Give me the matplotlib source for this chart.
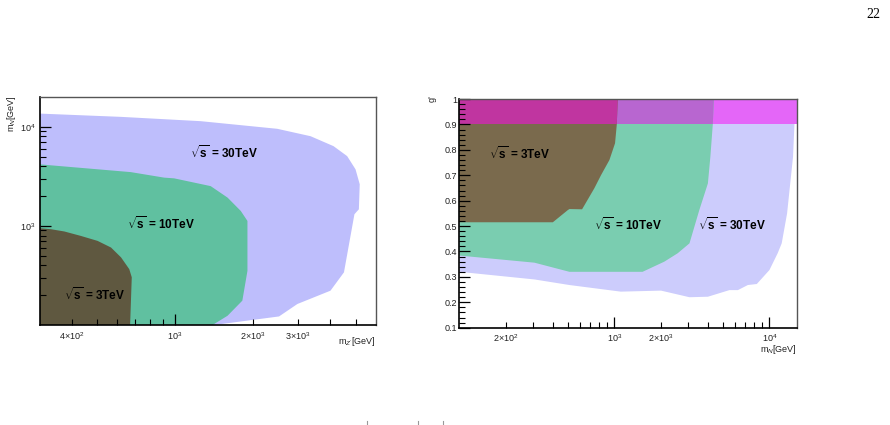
import matplotlib
matplotlib.use("Agg")
import matplotlib.pyplot as plt
from matplotlib.ticker import FixedLocator, FixedFormatter, NullFormatter
from matplotlib.lines import Line2D

plt.rcParams['font.family'] = ['Liberation Sans', 'DejaVu Sans']
plt.rcParams['mathtext.fontset'] = 'custom'
plt.rcParams['mathtext.rm'] = 'Liberation Sans'
plt.rcParams['mathtext.it'] = 'Liberation Sans:italic'
plt.rcParams['mathtext.bf'] = 'Liberation Sans:bold'

# ---- left panel: m_N vs m_Z' exclusion regions ----
mz_30 = [300, 300, 620, 1260, 2490, 3350, 4110, 4640, 5000, 5190, 5150, 5080, 4950, 4510, 4000, 2980, 2530, 1420]
mn_30 = [100, 13600, 12600, 11400, 9550, 8040, 6380, 5060, 3720, 2630, 1470, 1415, 1310, 340, 222, 163, 122, 100]

mz_10 = [300, 300, 676, 910, 994, 1377, 1600, 1800, 1910, 1910, 1825, 1600, 1400]
mn_10 = [100, 4180, 3490, 3070, 3020, 2520, 1930, 1415, 1122, 352, 176, 124, 100]

mz_3 = [300, 300, 332, 374, 433, 503, 567, 620, 667, 682, 672]
mn_3 = [100, 948, 926, 879, 793, 706, 605, 481, 366, 303, 100]

# ---- right panel: g' vs m_N exclusion regions ----
mN_30 = [100, 305, 513, 1100, 2000, 3050, 4010, 5520, 6260, 7260, 8290, 10000, 11300, 12000, 13000, 14200, 14500, 14600, 100]
g_30 = [0.320, 0.290, 0.268, 0.242, 0.246, 0.220, 0.222, 0.248, 0.248, 0.268, 0.272, 0.327, 0.393, 0.432, 0.55, 0.773, 0.90, 1.0, 1.0]

mN_10 = [100, 305, 513, 1520, 2100, 2560, 3050, 3530, 4010, 4160, 4310, 4380, 100]
g_10 = [0.384, 0.356, 0.320, 0.320, 0.360, 0.393, 0.432, 0.563, 0.668, 0.773, 0.898, 1.0, 1.0]

mN_3 = [100, 401, 501, 513, 619, 743, 821, 929, 1010, 1036, 1052, 100]
g_3 = [0.515, 0.515, 0.563, 0.567, 0.566, 0.649, 0.701, 0.760, 0.826, 0.898, 1.0, 1.0]

g_band = (0.9, 1.0)

labels = ['$\\sqrt{\\mathbf{s}}$ = 30TeV', '$\\sqrt{\\mathbf{s}}$ = 10TeV', '$\\sqrt{\\mathbf{s}}$ = 3TeV']

fig = plt.figure(figsize=(8.9, 4.25), dpi=100)
fig.patch.set_facecolor('white')


def style_frame(ax):
    for s in ['left', 'bottom']:
        ax.spines[s].set_color('black')
        ax.spines[s].set_linewidth(1.2)
    for s in ['top', 'right']:
        ax.spines[s].set_color('#555555')
        ax.spines[s].set_linewidth(1.0)
    for sp in ax.spines.values():
        sp.set_zorder(12)
    ax.xaxis.set_zorder(11)
    ax.yaxis.set_zorder(11)
    ax.tick_params(which='both', direction='in', top=False, right=False,
                   labelsize=6.5, colors='black', labelcolor='#222222')
    ax.tick_params(which='major', length=8, width=0.9)
    ax.tick_params(which='minor', length=4, width=0.8)


# left panel
ax1 = fig.add_axes([0.0444, 0.2353, 0.3781, 0.5365])
ax1.set_xscale('log')
ax1.set_yscale('log')
ax1.fill(mz_30, mn_30, color='#bebefc', lw=0, zorder=1)
ax1.fill(mz_10, mn_10, color='#60c0a0', lw=0, zorder=2)
ax1.fill(mz_3, mn_3, color='#5f5840', lw=0, zorder=3)
ax1.set_xlim(300, 6000)
ax1.set_ylim(100, 20000)
style_frame(ax1)
ax1.xaxis.set_major_locator(FixedLocator([1000]))
ax1.xaxis.set_major_formatter(FixedFormatter(['10$^{3}$']))
ax1.xaxis.set_minor_locator(FixedLocator([400, 500, 600, 700, 800, 900, 2000, 3000, 4000, 5000]))
ax1.xaxis.set_minor_formatter(FixedFormatter(['4×10$^{2}$', '', '', '', '', '',
                                              '2×10$^{3}$', '3×10$^{3}$', '', '']))
ax1.yaxis.set_major_locator(FixedLocator([1000, 10000]))
ax1.yaxis.set_major_formatter(FixedFormatter(['10$^{3}$', '10$^{4}$']))
ax1.yaxis.set_minor_locator(FixedLocator([200, 300, 400, 500, 600, 700, 800, 900,
                                          2000, 3000, 4000, 5000, 6000, 7000, 8000, 9000]))
ax1.yaxis.set_minor_formatter(NullFormatter())
ax1.tick_params(axis='x', which='both', pad=3.5)
ax1.tick_params(axis='y', which='both', pad=3)
ax1.text(1545, 5510, labels[0], fontsize=8.5, fontweight='bold', ha='center', va='center', zorder=20)
ax1.text(883, 1057, labels[1], fontsize=8.5, fontweight='bold', ha='center', va='center', zorder=20)
ax1.text(491, 202, labels[2], fontsize=8.5, fontweight='bold', ha='center', va='center', zorder=20)
fig.text(376 / 890, 1 - 342 / 425, "m$_{Z'}$[GeV]", fontsize=6.5, ha='right', va='center', color='#222222')
fig.text(12 / 890, 1 - 95 / 425, "m$_{N}$[GeV]", fontsize=6.5, ha='center', va='top', rotation=90, color='#222222')

# right panel
ax2 = fig.add_axes([0.5161, 0.2289, 0.3791, 0.5381])
ax2.set_xscale('log')
ax2.fill(mN_30, g_30, color='#ccccfc', lw=0, zorder=1)
ax2.axhspan(g_band[0], g_band[1], color='#e466f8', lw=0, zorder=2)
p10 = ax2.fill(mN_10, g_10, color='#7acdb0', lw=0, zorder=3)[0]
band10 = ax2.axhspan(g_band[0], g_band[1], color='#b866d0', lw=0, zorder=4)
band10.set_clip_path(p10)
p3 = ax2.fill(mN_3, g_3, color='#7a6a4d', lw=0, zorder=5)[0]
band3 = ax2.axhspan(g_band[0], g_band[1], color='#c035a0', lw=0, zorder=6)
band3.set_clip_path(p3)
ax2.set_xlim(100, 15000)
ax2.set_ylim(0.1, 1.0)
style_frame(ax2)
ax2.xaxis.set_major_locator(FixedLocator([1000, 10000]))
ax2.xaxis.set_major_formatter(FixedFormatter(['10$^{3}$', '10$^{4}$']))
ax2.xaxis.set_minor_locator(FixedLocator([200, 300, 400, 500, 600, 700, 800, 900,
                                          2000, 3000, 4000, 5000, 6000, 7000, 8000, 9000]))
ax2.xaxis.set_minor_formatter(FixedFormatter(['2×10$^{2}$', '', '', '', '', '', '', '',
                                              '2×10$^{3}$', '', '', '', '', '', '', '']))
ax2.yaxis.set_major_locator(FixedLocator([0.1, 0.2, 0.3, 0.4, 0.5, 0.6, 0.7, 0.8, 0.9, 1.0]))
ax2.yaxis.set_major_formatter(FixedFormatter(['0.1', '0.2', '0.3', '0.4', '0.5', '0.6', '0.7', '0.8', '0.9', '1']))
ax2.yaxis.set_minor_locator(FixedLocator([0.1 + 0.02 * i for i in range(46)]))
ax2.yaxis.set_minor_formatter(NullFormatter())
ax2.tick_params(axis='x', which='both', pad=3.5)
ax2.tick_params(axis='y', which='both', pad=1.5)
ax2.text(244, 0.786, labels[2], fontsize=8.5, fontweight='bold', ha='center', va='center', zorder=20)
ax2.text(1220, 0.507, labels[1], fontsize=8.5, fontweight='bold', ha='center', va='center', zorder=20)
ax2.text(5720, 0.507, labels[0], fontsize=8.5, fontweight='bold', ha='center', va='center', zorder=20)
fig.text(797 / 890, 1 - 350 / 425, "m$_{N}$[GeV]", fontsize=6.5, ha='right', va='center', color='#222222')
fig.text(432 / 890, 1 - 95 / 425, "g'", fontsize=6.5, ha='center', va='top', rotation=90, color='#222222')

# page number and cut-off marks at the bottom of the page
fig.text(873 / 890, 1 - 14 / 425, '22', fontsize=10, family='Liberation Serif', ha='center', va='center')
for xm in [367, 418, 443]:
    fig.add_artist(Line2D([xm / 890, xm / 890], [0, 4 / 425], color='#999999', lw=0.8))

fig.savefig('out.png', dpi=100)
